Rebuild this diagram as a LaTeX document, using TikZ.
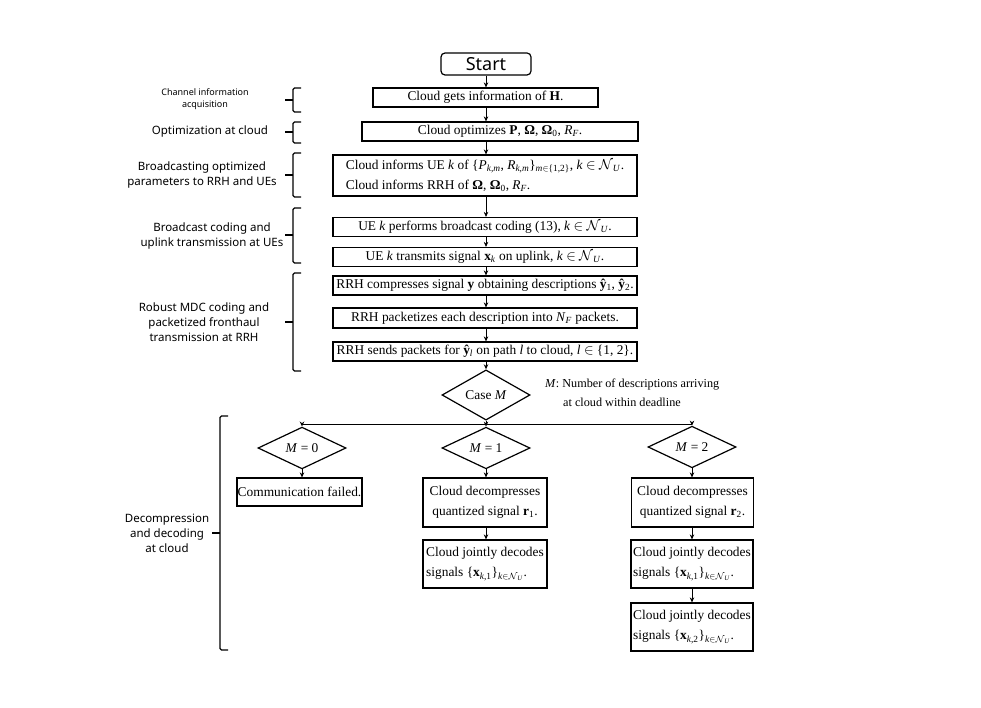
\documentclass[tikz,border=0pt]{standalone}
\usepackage{fontspec}
\setmainfont{Liberation Serif}
\newfontfamily\notosans{Noto Sans}
\usetikzlibrary{arrows.meta,shapes.geometric}

\newcommand\ital[1]{\textit{#1}}
\newcommand\sbs[1]{\textsubscript{#1}}
\newcommand\calNU{$\mathcal{N}$\sbs{\ital{U}}}
\newcommand\boxfont{\fontsize{13.4}{20}\selectfont}
\newcommand\labfont{\notosans\fontsize{11.5}{15}\selectfont}
\newcommand\smlabfont{\notosans\fontsize{9}{12}\selectfont}
\newcommand\notefont{\fontsize{12.2}{16}\selectfont}

\tikzset{
  box/.style={draw, line width=1.2pt, inner sep=0pt, font=\boxfont, minimum height=19pt},
  dia/.style={draw, diamond, line width=1.2pt, inner sep=0pt, minimum width=88pt, minimum height=34pt, font=\boxfont},
  arr/.style={-{Stealth[length=5pt,width=4.5pt]}, line width=0.9pt},
  brc/.style={line width=1.1pt, rounded corners=1.5pt},
  lab/.style={font=\labfont, align=center, inner sep=0pt},
}

\newcommand\lbrc[4]{%
  \draw[brc] ({#1+8},#2) -- (#1,#2) -- (#1,#3) -- ({#1+8},#3);
  \draw[brc] (#1,#4) -- ({#1-8},#4);}

\begin{document}
\begin{tikzpicture}[x=1pt,y=-1pt]
\useasboundingbox (0,0) rectangle (981,708);

% main column
\node[draw, line width=1.2pt, rounded corners=4pt, minimum width=90pt, minimum height=22pt, inner sep=0pt,
      font=\notosans\fontsize{18}{20}\selectfont] (start) at (486,64) {Start};
\node[box, minimum width=225pt] (b1) at (485.5,97.5) {Cloud gets information of \textbf{H}.};
\node[box, minimum width=276pt] (b2) at (500,131.5) {Cloud optimizes \textbf{P}, \textbf{Ω}, \textbf{Ω}\sbs{0}, \ital{R}\sbs{\ital{F}}.};
\node[box, minimum width=304pt, minimum height=41pt, align=left] (b3) at (485,175.5)
  {Cloud informs UE \ital{k} of \{\ital{P}\sbs{\ital{k,m}}, \ital{R}\sbs{\ital{k,m}}\}\sbs{\ital{m}$\in$\{1,2\}}, \ital{k} $\in$ \calNU.\\
   Cloud informs RRH of \textbf{Ω}, \textbf{Ω}\sbs{0}, \ital{R}\sbs{\ital{F}}.};
\node[box, minimum width=304pt] (b4) at (485,227) {UE \ital{k} performs broadcast coding (13), \ital{k} $\in$ \calNU.};
\node[box, minimum width=304pt] (b5) at (485,257) {UE \ital{k} transmits signal \textbf{x}\sbs{\ital{k}} on uplink, \ital{k} $\in$ \calNU.};
\node[box, minimum width=304pt] (b6) at (485,285.5) {RRH compresses signal \textbf{y} obtaining descriptions \textbf{ŷ}\sbs{1}, \textbf{ŷ}\sbs{2}.};
\node[box, minimum width=304pt, minimum height=20pt] (b7) at (485,318) {RRH packetizes each description into \ital{N}\sbs{\ital{F}} packets.};
\node[box, minimum width=304pt] (b8) at (485,351.5) {RRH sends packets for \textbf{ŷ}\sbs{\ital{l}} on path \ital{l} to cloud, \ital{l} $\in$ \{1, 2\}.};

\node[dia] (case) at (486,395) {Case \ital{M}};
\node[font=\notefont, anchor=west, inner sep=0pt] (note1) at (545,385) {\ital{M}: Number of descriptions arriving};
\node[font=\notefont, anchor=west, inner sep=0pt] (note2) at (563,402) {at cloud within deadline};

\node[dia] (m0) at (302,448) {\ital{M} = 0};
\node[dia] (m1) at (486,448) {\ital{M} = 1};
\node[dia] (m2) at (692,447) {\ital{M} = 2};

\node[box, minimum width=125pt, minimum height=28pt] (fail) at (299.5,492) {Communication failed.};
\node[box, minimum width=124pt, minimum height=49pt, align=center] (dec1) at (485,502.5) {Cloud decompresses\\quantized signal \textbf{r}\sbs{1}.};
\node[box, minimum width=124pt, minimum height=48pt, align=left] (jd1) at (485,564) {Cloud jointly decodes\\signals \{\textbf{x}\sbs{\ital{k},1}\}\sbs{\ital{k}$\in$\calNU}.};
\node[box, minimum width=122pt, minimum height=49pt, align=center] (dec2) at (692.5,502.5) {Cloud decompresses\\quantized signal \textbf{r}\sbs{2}.};
\node[box, minimum width=122pt, minimum height=48pt, align=left] (jd2a) at (692,564) {Cloud jointly decodes\\signals \{\textbf{x}\sbs{\ital{k},1}\}\sbs{\ital{k}$\in$\calNU}.};
\node[box, minimum width=122pt, minimum height=48pt, align=left] (jd2b) at (692,627) {Cloud jointly decodes\\signals \{\textbf{x}\sbs{\ital{k},2}\}\sbs{\ital{k}$\in$\calNU}.};

% arrows
\draw[arr] (start.south) -- (start.south |- b1.north);
\draw[arr] (start.south |- b1.south) -- (start.south |- b2.north);
\draw[arr] (start.south |- b2.south) -- (start.south |- b3.north);
\draw[arr] (start.south |- b3.south) -- (start.south |- b4.north);
\draw[arr] (start.south |- b4.south) -- (start.south |- b5.north);
\draw[arr] (start.south |- b5.south) -- (start.south |- b6.north);
\draw[arr] (start.south |- b6.south) -- (start.south |- b7.north);
\draw[arr] (start.south |- b7.south) -- (start.south |- b8.north);
\draw[arr] (start.south |- b8.south) -- (case.north);
\draw[arr] (case.south) -- (m1.north);
\coordinate (hl) at (486,424);
\draw[line width=0.9pt] (m0.north |- hl) -- (m2.north |- hl);
\draw[arr] (m0.north |- hl) -- (m0.north);
\draw[arr] (m2.north |- hl) -- (m2.north);
\draw[arr] (m0.south) -- (m0.south |- fail.north);
\draw[arr] (m1.south) -- (m1.south |- dec1.north);
\draw[arr] (m1.south |- dec1.south) -- (m1.south |- jd1.north);
\draw[arr] (m2.south) -- (m2.south |- dec2.north);
\draw[arr] (m2.south |- dec2.south) -- (m2.south |- jd2a.north);
\draw[arr] (m2.south |- jd2a.south) -- (m2.south |- jd2b.north);

% braces
\lbrc{293}{88}{112}{100}
\lbrc{293}{122}{143}{132}
\lbrc{293}{153}{197}{175}
\lbrc{293}{208}{263}{235}
\lbrc{293}{273}{371}{322}
\lbrc{220}{416}{650}{533}

% labels
\node[lab, font=\smlabfont] (l1) at (205,99) {Channel information\\acquisition};
\node[lab] (l2) at (210,132) {Optimization at cloud};
\node[lab] (l3) at (202,175) {Broadcasting optimized\\parameters to RRH and UEs};
\node[lab] (l4) at (212,236) {Broadcast coding and\\uplink transmission at UEs};
\node[lab] (l5) at (204,322) {Robust MDC coding and\\packetized fronthaul\\transmission at RRH};
\node[lab] (l6) at (167,533) {Decompression\\and decoding\\at cloud};
\end{tikzpicture}
\end{document}
